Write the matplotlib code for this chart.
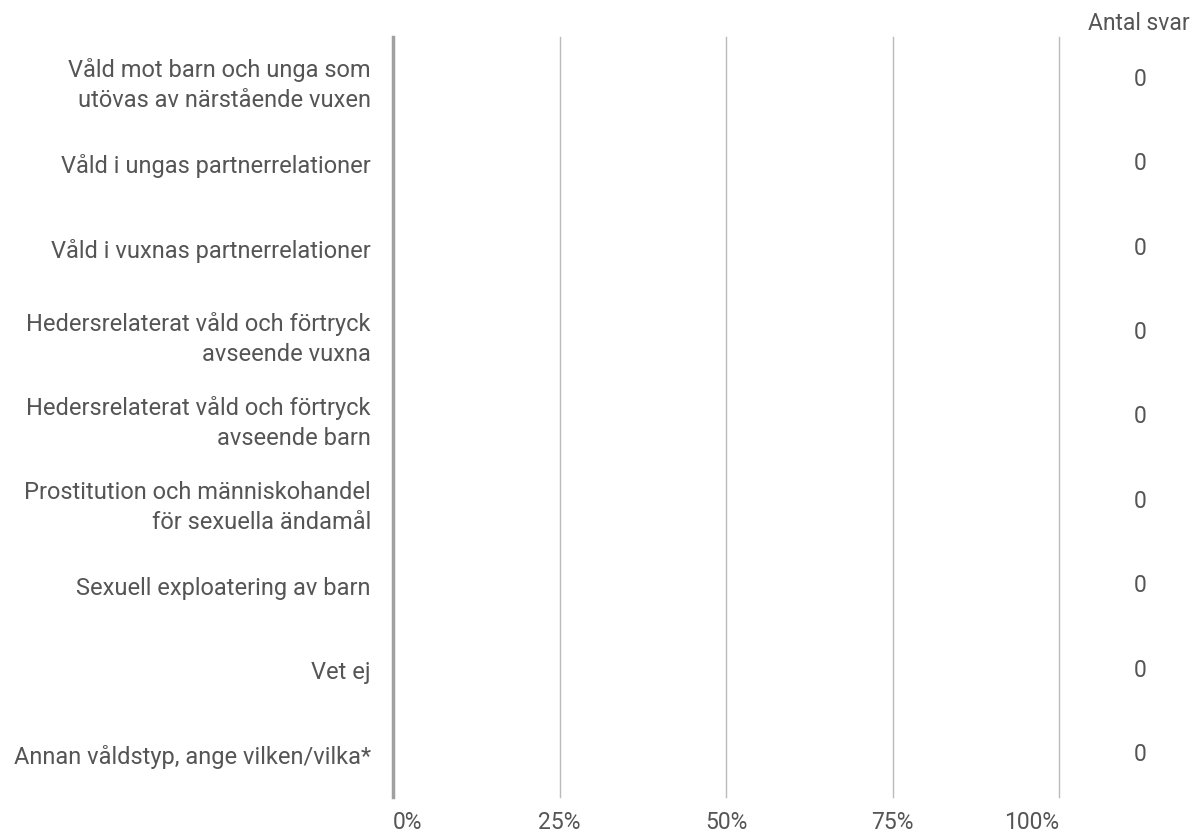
import matplotlib.pyplot as plt
import matplotlib.transforms as mtransforms
import numpy as np

plt.rcParams['font.family'] = ['Roboto', 'DejaVu Sans']

# Kategorier och värden
kategorier = [
    "Våld mot barn och unga som\nutövas av närstående vuxen",
    "Våld i ungas partnerrelationer",
    "Våld i vuxnas partnerrelationer",
    "Hedersrelaterat våld och förtryck\navseende vuxna",
    "Hedersrelaterat våld och förtryck\navseende barn",
    "Prostitution och människohandel\nför sexuella ändamål",
    "Sexuell exploatering av barn",
    "Vet ej",
    "Annan våldstyp, ange vilken/vilka*",
]
andel = [0, 0, 0, 0, 0, 0, 0, 0, 0]
antal_svar = [0, 0, 0, 0, 0, 0, 0, 0, 0]
xticks = [0, 25, 50, 75, 100]

textfarg = '#555555'

fig = plt.figure(figsize=(12.03, 8.34), dpi=100)
ax = fig.add_axes([0.3267, 0.0444, 0.5536, 0.9112])

y = np.arange(len(kategorier))
ax.barh(y, andel, color='#4e79a7', height=0.6)

ax.set_xlim(0, 100)
ax.set_ylim(len(kategorier) - 0.5, -0.5)
ax.set_xticks(xticks)
ax.set_xticklabels([str(t) + '%' for t in xticks], fontsize=16.5, color=textfarg)
# första och sista etiketten hålls innanför axeln
xlabs = ax.get_xticklabels()
xlabs[0].set_ha('left')
xlabs[-1].set_ha('right')
ax.set_yticks(y)
ax.set_yticklabels(kategorier, fontsize=17, color=textfarg, linespacing=1.4)
ax.tick_params(axis='both', length=0)
ax.tick_params(axis='y', pad=16)
ax.tick_params(axis='x', pad=10)

# Rutnät
ax.grid(axis='x', color='#bbbbbb', lw=1)
for gl in ax.get_xgridlines():
    gl.set_clip_on(False)
ax.set_axisbelow(True)
for s in ['top', 'right', 'bottom']:
    ax.spines[s].set_visible(False)
ax.spines['left'].set_color('#a0a0a0')
ax.spines['left'].set_linewidth(2.5)

# Antal svar till höger
trans = mtransforms.blended_transform_factory(fig.transFigure, ax.transData)
for i, n in enumerate(antal_svar):
    ax.text(1140 / 1203, i, str(n), transform=trans,
            ha='center', va='center', fontsize=16.5, color=textfarg)
fig.text(1190 / 1203, 1 - 30 / 834, 'Antal svar', ha='right', va='baseline',
         fontsize=16.5, color=textfarg)

plt.savefig('out.png', dpi=100)
